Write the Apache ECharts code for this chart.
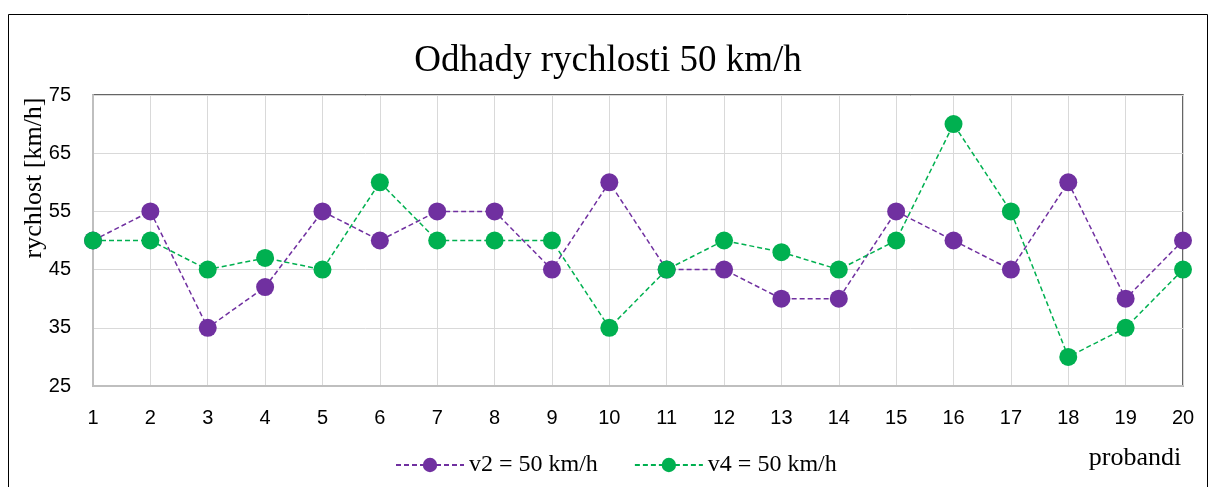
<!DOCTYPE html>
<html>
<head>
<meta charset="utf-8">
<script src="https://cdn.jsdelivr.net/npm/echarts@6/dist/echarts.min.js"></script>
<style>
html,body{margin:0;padding:0;background:#fff;}
#main{width:1216px;height:487px;}
</style>
</head>
<body>
<div id="main"></div>
<script>
var probandi=['1','2','3','4','5','6','7','8','9','10','11','12','13','14','15','16','17','18','19','20'];
var v2Data=[50,55,35,42,55,50,55,55,45,60,45,45,40,40,55,50,45,60,40,50];
var v4Data=[50,50,45,47,45,60,50,50,50,35,45,50,48,45,50,70,55,30,35,45];
var serif='"Liberation Serif","Times New Roman",serif';
var sans='"Liberation Sans",Arial,sans-serif';

var myChart=echarts.init(document.getElementById('main'));
var option={
    animation:false,
    backgroundColor:'#fff',
    title:{
        text:'Odhady rychlosti 50 km/h',
        left:'center',
        top:38,
        textStyle:{fontFamily:serif,fontWeight:'normal',fontSize:37,color:'#000'}
    },
    legend:{
        left:390,
        top:448,
        itemWidth:68,
        itemHeight:18,
        itemGap:36,
        textStyle:{fontFamily:serif,fontSize:24,color:'#000'},
        data:['v2 = 50 km/h','v4 = 50 km/h']
    },
    grid:{
        left:93,right:33,top:95,bottom:101,
        show:true,
        borderColor:'#333',
        borderWidth:1.5
    },
    xAxis:{
        type:'category',
        boundaryGap:false,
        data:probandi,
        axisLine:{lineStyle:{color:'#bfbfbf',width:2}},
        axisTick:{show:false},
        splitLine:{show:true,lineStyle:{color:'#d9d9d9',width:1}},
        axisLabel:{color:'#000',fontFamily:sans,fontSize:20,margin:22}
    },
    yAxis:{
        type:'value',
        min:25,max:75,interval:10,
        axisLine:{show:true,lineStyle:{color:'#bfbfbf',width:2}},
        axisTick:{show:false},
        splitLine:{lineStyle:{color:'#d9d9d9',width:1}},
        axisLabel:{color:'#000',fontFamily:sans,fontSize:20,margin:22}
    },
    graphic:[
        {type:'rect',shape:{x:8.5,y:14.5,width:1199,height:500},style:{fill:'none',stroke:'#000',lineWidth:1},z:-1,silent:true},
        {type:'text',x:34,y:178,rotation:Math.PI/2,style:{text:'rychlost [km/h]',fontFamily:serif,fontSize:26,fill:'#000',align:'center',verticalAlign:'middle'}},
        {type:'text',x:1135,y:458,style:{text:'probandi',fontFamily:serif,fontSize:26,fill:'#000',align:'center',verticalAlign:'middle'}}
    ],
    series:[
        {
            name:'v2 = 50 km/h',
            type:'line',
            symbol:'circle',
            symbolSize:18,
            itemStyle:{color:'#7030a0'},
            lineStyle:{color:'#7030a0',width:1.5,type:[5,3]},
            data:v2Data
        },
        {
            name:'v4 = 50 km/h',
            type:'line',
            symbol:'circle',
            symbolSize:18,
            itemStyle:{color:'#00b050'},
            lineStyle:{color:'#00b050',width:1.5,type:[5,3]},
            data:v4Data
        }
    ]
};
myChart.setOption(option);
</script>
</body>
</html>
